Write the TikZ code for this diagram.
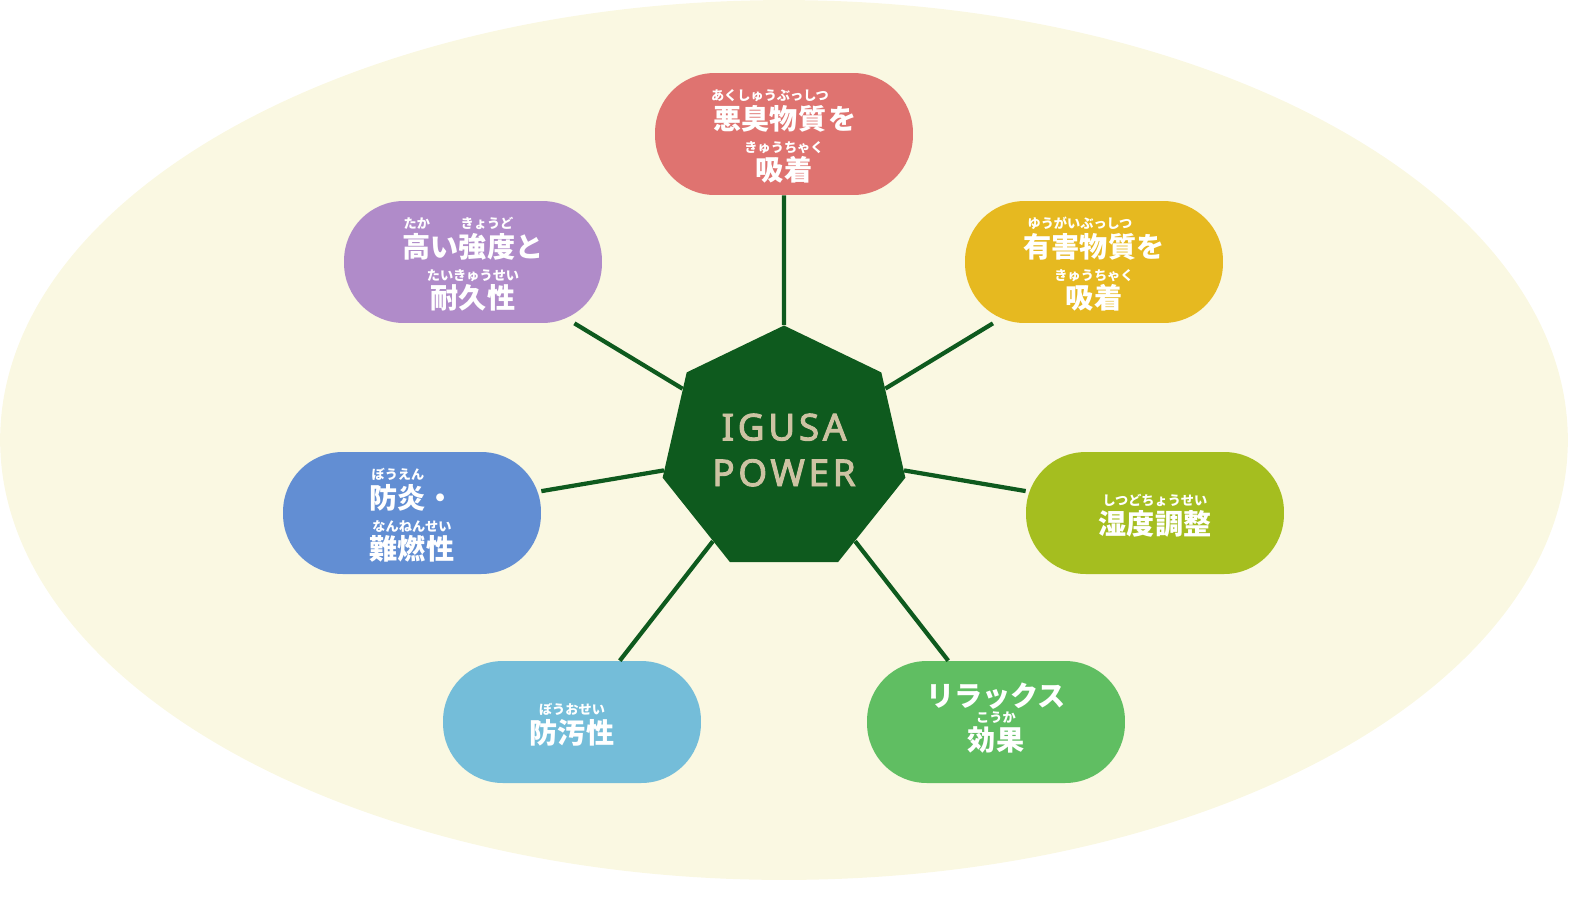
\documentclass[tikz,border=0pt]{standalone}
\usepackage{fontspec}
\setmainfont{Noto Sans CJK JP}
\newfontfamily\latinfont{Noto Sans}[LetterSpace=10, FakeBold=2.5]
\usetikzlibrary{shapes.geometric}
\definecolor{bgcream}{HTML}{FAF8E2}
\definecolor{hubgreen}{HTML}{0E5A1E}
\definecolor{hubtext}{HTML}{CDC3A3}
\definecolor{cred}{HTML}{DF7370}
\definecolor{cyellow}{HTML}{E6B920}
\definecolor{clime}{HTML}{A5BE1F}
\definecolor{cgreen}{HTML}{60BE62}
\definecolor{cblue}{HTML}{74BDD9}
\definecolor{cnavy}{HTML}{628ED3}
\definecolor{cpurple}{HTML}{B08BC9}
\newcommand\rb[2]{\begin{tabular}[b]{@{}c@{}}\fontsize{7.5}{8}\selectfont #2\\[-3pt]#1\end{tabular}}
\tikzset{
  effect/.style={rounded corners=34pt, minimum width=5.16cm, minimum height=2.44cm,
    fill=#1, text=white, align=center, font=\bfseries\fontsize{16}{19}\selectfont, inner sep=0pt},
  spoke/.style={draw=hubgreen, line width=2.4pt}
}
\begin{document}
\begin{tikzpicture}[x=0.02cm,y=-0.02cm]
\useasboundingbox (0,0) rectangle (1596,897);
\fill[bgcream] (784,440) ellipse [x radius=15.68cm, y radius=8.8cm];
\node[regular polygon, regular polygon sides=7, minimum size=4.98cm, inner sep=0pt,
  fill=hubgreen, text=hubtext, align=center,
  font=\latinfont\fontsize{21}{26}\selectfont] (hub) at (784,450) {IGUSA\\POWER};
\node[effect=cred] (odor) at (784,134) {\rb{悪臭物質}{あくしゅうぶっしつ}を\\[-7pt]\rb{吸着}{きゅうちゃく}};
\node[effect=cyellow] (harm) at (1094,262) {\rb{有害物質}{ゆうがいぶっしつ}を\\[-7pt]\rb{吸着}{きゅうちゃく}};
\node[effect=clime] (humid) at (1155,513) {\rb{湿度調整}{しつどちょうせい}};
\node[effect=cgreen] (relax) at (996,722) {リラックス\\[-7pt]\rb{効果}{こうか}};
\node[effect=cblue] (stain) at (572,722) {\rb{防汚性}{ぼうおせい}};
\node[effect=cnavy] (fire) at (412,513) {\rb{防炎}{ぼうえん}・\\[-7pt]\rb{難燃性}{なんねんせい}};
\node[effect=cpurple] (strong) at (473,262) {\rb{高}{たか}い\rb{強度}{きょうど}と\\[-7pt]\rb{耐久性}{たいきゅうせい}};
\foreach \n in {odor,harm,humid,relax,stain,fire,strong}
  \draw[spoke] (hub) -- (\n);
\end{tikzpicture}
\end{document}
